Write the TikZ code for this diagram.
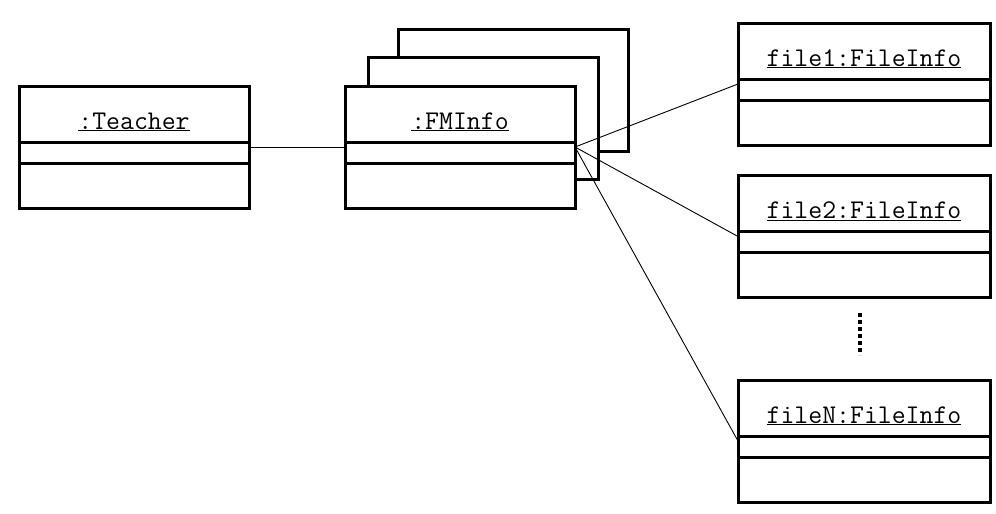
\documentclass[tikz,border=0pt]{standalone}
\usetikzlibrary{positioning}
\begin{document}
\begin{tikzpicture}[x=1pt,y=-1pt,
	objbox/.style={draw,line width=3pt,fill=white,outer sep=0pt,inner sep=0pt,minimum width=230pt,minimum height=122pt},
	filebox/.style={objbox,minimum width=252pt},
	objname/.style={anchor=base,font=\fontsize{27}{31}\selectfont\ttfamily},
	link/.style={line width=0.9pt}]
	\useasboundingbox (0,0) rectangle (996,514);
	% Stacked FMInfo objects
	\node[objbox] (fmback) at (513.5,90) {};
	\node[objbox] (fmmid) at (483,118.5) {};
	% Objects
	\node[objbox] (teacher) at (134,147) {};
	\node[objbox] (fminfo) at (460,147) {};
	\node[filebox] (file1) at (864,84) {};
	\node[filebox] (file2) at (864,236.5) {};
	\node[filebox] (fileN) at (864,441) {};
	% Compartments and names
	\foreach \obj/\txt in {teacher/:Teacher, fminfo/:FMInfo, file1/file1:FileInfo, file2/file2:FileInfo, fileN/fileN:FileInfo}
	{
		\draw[line width=3pt] ([yshift=-56pt]\obj.north west) -- ([yshift=-56pt]\obj.north east);
		\draw[line width=3pt] ([yshift=-77pt]\obj.north west) -- ([yshift=-77pt]\obj.north east);
		\node[objname] (\obj-name) at ([yshift=-43pt]\obj.north) {\underline{\txt}};
	}
	% Links
	\draw[link] (teacher.east) -- (fminfo.west);
	\draw[link] (fminfo.east) -- (file1.west);
	\draw[link] (fminfo.east) -- (file2.west);
	\draw[link] (fminfo.east) -- (fileN.west);
	% Dots
	\draw[line width=4pt,dash pattern=on 4pt off 3pt] (860,313) -- (860,355);
\end{tikzpicture}
\end{document}
